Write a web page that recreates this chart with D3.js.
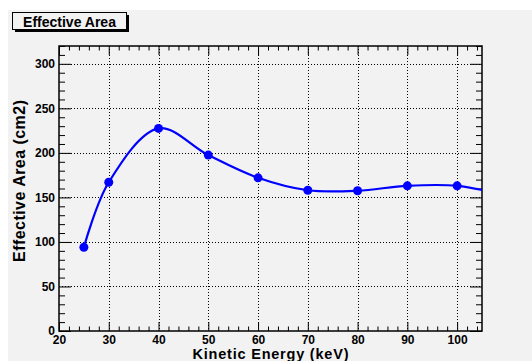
<!DOCTYPE html>
<html>
<head>
<meta charset="utf-8">
<script src="https://cdn.jsdelivr.net/npm/d3@7"></script>
<style>
  body { margin: 0; background: #fff; }
  svg { display: block; }
  text { font-family: "Liberation Sans", Arial, sans-serif; font-weight: bold; }
</style>
</head>
<body>
<div id="chart"></div>
<script>
// Data (last point lies beyond the frame and is clipped)
const energy = [25, 30, 40, 50, 60, 70, 80, 90, 100, 110];
const area = [94, 167, 227.5, 197.5, 172, 158, 157.5, 163, 163, 152];
const xMajorTicks = [20, 30, 40, 50, 60, 70, 80, 90, 100];
const yMajorTicks = [0, 50, 100, 150, 200, 250, 300];

const width = 532;
const height = 361;
const frame = { left: 59, right: 482, top: 46, bottom: 331 };

const svg = d3.select("#chart")
              .append("svg")
              .attr("width", width)
              .attr("height", height);

// canvas background
svg.append("rect")
   .attr("x", 8).attr("y", 10)
   .attr("width", width - 8).attr("height", height - 10)
   .attr("fill", "#f2f2f2");

const x = d3.scaleLinear().domain([20, 105]).range([frame.left, frame.right]);
const y = d3.scaleLinear().domain([0, 320]).range([frame.bottom, frame.top]);

const xMinor = d3.range(20, 105, 2).filter(v => v % 10 !== 0);
const yMinor = d3.range(0, 321, 10).filter(v => v % 50 !== 0);

// grid
const grid = svg.append("g")
                .attr("stroke", "#000")
                .attr("stroke-width", 1)
                .attr("stroke-dasharray", "1,2")
                .attr("shape-rendering", "crispEdges");

grid.selectAll(".gx")
    .data(xMajorTicks.filter(v => v > 20))
    .enter().append("line")
    .attr("x1", d => Math.round(x(d)) + 0.5).attr("x2", d => Math.round(x(d)) + 0.5)
    .attr("y1", frame.top).attr("y2", frame.bottom);

grid.selectAll(".gy")
    .data(yMajorTicks.filter(v => v > 0))
    .enter().append("line")
    .attr("y1", d => Math.round(y(d)) + 0.5).attr("y2", d => Math.round(y(d)) + 0.5)
    .attr("x1", frame.left).attr("x2", frame.right);

// axes helper: ticks drawn inward
function drawAxis(axisFn, scale, major, minor, majorLen, minorLen, transform, labels) {
  const gMinor = svg.append("g")
     .attr("transform", transform)
     .call(axisFn(scale).tickValues(minor).tickSize(-minorLen).tickFormat(""));
  gMinor.select(".domain").remove();
  const g = svg.append("g")
     .attr("transform", transform)
     .call(axisFn(scale).tickValues(major).tickSize(-majorLen).tickPadding(labels ? 4 : 0)
           .tickFormat(labels ? d3.format("d") : ""));
  g.select(".domain").remove();
  g.selectAll("text")
   .attr("font-size", 12)
   .attr("fill", "#000");
  svg.selectAll(".tick line").attr("stroke", "#000");
  return g;
}

drawAxis(d3.axisBottom, x, xMajorTicks, xMinor, 9, 4.5, `translate(0,${frame.bottom})`, true);
drawAxis(d3.axisTop, x, xMajorTicks, xMinor, 9, 4.5, `translate(0,${frame.top})`, false);
drawAxis(d3.axisLeft, y, yMajorTicks, yMinor, 12, 6, `translate(${frame.left},0)`, true);
drawAxis(d3.axisRight, y, yMajorTicks, yMinor, 12, 6, `translate(${frame.right},0)`, false);

// frame
svg.append("rect")
   .attr("x", frame.left).attr("y", frame.top)
   .attr("width", frame.right - frame.left).attr("height", frame.bottom - frame.top)
   .attr("fill", "none")
   .attr("stroke", "#000")
   .attr("stroke-width", 1.5);

// curve and markers, clipped to the frame
svg.append("clipPath").attr("id", "clip")
   .append("rect")
   .attr("x", frame.left).attr("y", frame.top)
   .attr("width", frame.right - frame.left).attr("height", frame.bottom - frame.top);

const pts = energy.map((e, i) => [e, area[i]]);
const line = d3.line()
               .x(d => x(d[0]))
               .y(d => y(d[1]))
               .curve(d3.curveCatmullRom.alpha(0.5));

const plot = svg.append("g").attr("clip-path", "url(#clip)");
plot.append("path")
    .datum(pts)
    .attr("d", line)
    .attr("fill", "none")
    .attr("stroke", "#0000ff")
    .attr("stroke-width", 2.2);

plot.selectAll(".dot")
    .data(pts)
    .enter().append("circle")
    .attr("cx", d => x(d[0]))
    .attr("cy", d => y(d[1]))
    .attr("r", 4.5)
    .attr("fill", "#0000ff");

// axis titles
svg.append("text")
   .attr("x", (frame.left + frame.right) / 2)
   .attr("y", 359)
   .attr("font-size", 14.5)
   .attr("textLength", 156)
   .attr("lengthAdjust", "spacing")
   .style("text-anchor", "middle")
   .text("Kinetic Energy (keV)");

svg.append("text")
   .attr("transform", `translate(25,181) rotate(-90)`)
   .attr("font-size", 16)
   .attr("textLength", 162)
   .attr("lengthAdjust", "spacing")
   .style("text-anchor", "middle")
   .text("Effective Area (cm2)");

// title box with shadow
svg.append("rect")
   .attr("x", 15).attr("y", 15)
   .attr("width", 114).attr("height", 17)
   .attr("fill", "#000");
svg.append("rect")
   .attr("x", 12.5).attr("y", 12.5)
   .attr("width", 114).attr("height", 17)
   .attr("fill", "#f2f2f2")
   .attr("stroke", "#000")
   .attr("stroke-width", 1);
svg.append("text")
   .attr("x", 69.5)
   .attr("y", 26.5)
   .attr("font-size", 14)
   .style("text-anchor", "middle")
   .text("Effective Area");
</script>
</body>
</html>
